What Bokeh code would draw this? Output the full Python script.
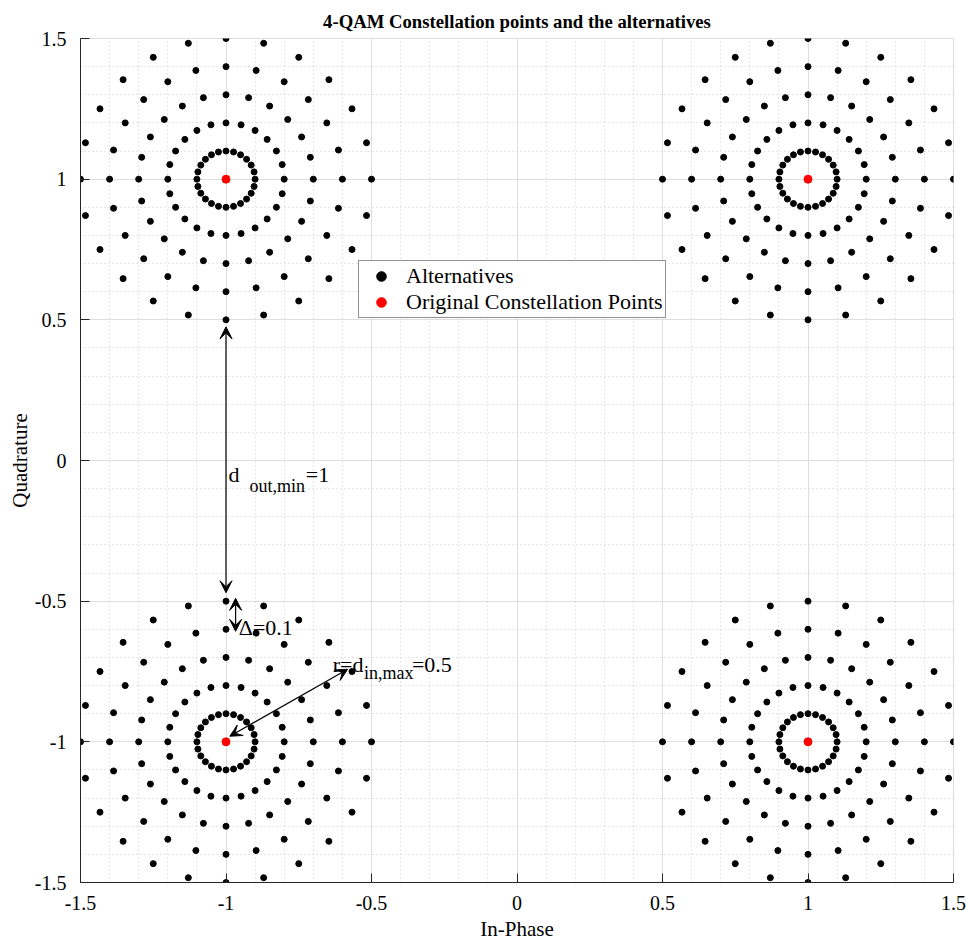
import numpy as np
from bokeh.plotting import figure
from bokeh.models import (ColumnDataSource, FixedTicker, Label, Arrow, VeeHead,
                          Legend, LegendItem)
from bokeh.embed import file_html
from bokeh.resources import INLINE

# ---- data ----
const_i = [1, -1, -1, 1]
const_q = [1, 1, -1, -1]
ring_radii = [0.1, 0.2, 0.3, 0.4, 0.5]
ring_angles_deg = [0, 15, 30, 45, 60, 75, 90, 105, 120, 135, 150, 165,
                   180, 195, 210, 225, 240, 255, 270, 285, 300, 315, 330, 345]
major_ticks = [-1.5, -1, -0.5, 0, 0.5, 1, 1.5]
tick_labels = {-1.5: "-1.5", -1: "-1", -0.5: "-0.5", 0: "0", 0.5: "0.5", 1: "1", 1.5: "1.5"}
title_text = "4-QAM Constellation points and the alternatives"

alt_i, alt_q = [], []
for ci, cq in zip(const_i, const_q):
    for r in ring_radii:
        for a in ring_angles_deg:
            t = np.deg2rad(a)
            alt_i.append(ci + r * np.cos(t))
            alt_q.append(cq + r * np.sin(t))

FONT = "Liberation Serif"
AX = "#262626"

p = figure(width=966, height=943, output_backend="svg", toolbar_location=None,
           x_range=(-1.5, 1.5), y_range=(-1.5, 1.5),
           min_border_left=80, min_border_right=13, min_border_top=38, min_border_bottom=60)
p.title.text = title_text
p.title.align = "center"
p.title.text_font = FONT
p.title.text_font_size = "18.7px"
p.title.text_font_style = "bold"
p.title.text_color = "#000000"
p.title.standoff = 14

minor = [round(v, 1) for v in np.arange(-1.5, 1.5001, 0.1)]
for ax in (p.xaxis[0], p.yaxis[0]):
    ax.ticker = FixedTicker(ticks=major_ticks, minor_ticks=minor)
    ax.major_label_overrides = {k: v for k, v in tick_labels.items()}
    ax.major_label_text_font = FONT
    ax.major_label_text_font_size = "20px"
    ax.major_label_text_color = "#000000"
    ax.axis_label_text_font = FONT
    ax.axis_label_text_font_size = "21px"
    ax.axis_label_text_font_style = "normal"
    ax.axis_label_text_color = "#000000"
    ax.axis_line_color = AX
    ax.major_tick_line_color = AX
    ax.major_tick_in = 9
    ax.major_tick_out = 0
    ax.minor_tick_line_color = None
p.xaxis.axis_label = "In-Phase"
p.yaxis.axis_label = "Quadrature"
p.xaxis.major_label_standoff = 9
p.yaxis.major_label_standoff = 10
p.xaxis.axis_label_standoff = 4
p.yaxis.axis_label_standoff = 0

p.grid.grid_line_color = "#dedede"
p.grid.minor_grid_line_color = "#cccccc"
p.grid.minor_grid_line_dash = "1 3"
p.outline_line_color = "#dcdcdc"

src_alt = ColumnDataSource(dict(x=alt_i, y=alt_q))
src_c = ColumnDataSource(dict(x=const_i, y=const_q))
r_alt = p.scatter("x", "y", source=src_alt, size=6, color="black")
r_c = p.scatter("x", "y", source=src_c, size=8, color="red")

legend = Legend(items=[LegendItem(label="Alternatives", renderers=[r_alt]),
                       LegendItem(label="Original Constellation Points", renderers=[r_c])],
                location=(278, 564))
legend.label_text_font = FONT
legend.label_text_font_size = "22px"
legend.label_text_color = "#000000"
legend.border_line_color = AX
legend.border_line_width = 1
legend.padding = 2
legend.spacing = 0
legend.label_height = 24
legend.glyph_height = 24
legend.glyph_width = 40
legend.label_standoff = 5
legend.margin = 0
legend.background_fill_alpha = 1
p.add_layout(legend, "center")

def dbl_arrow(x0, y0, x1, y1):
    p.add_layout(Arrow(x_start=x0, y_start=y0, x_end=x1, y_end=y1,
                       line_color="black", line_width=1.2,
                       start=VeeHead(size=12, fill_color="black", line_color="black"),
                       end=VeeHead(size=12, fill_color="black", line_color="black")))

dbl_arrow(-1.0, -0.47, -1.0, 0.475)
dbl_arrow(-0.967, -0.607, -0.967, -0.49)
dbl_arrow(-0.987, -0.98, -0.582, -0.742)

def lab(x, y, t, size="22px"):
    p.add_layout(Label(x=x, y=y, text=t, text_font=FONT, text_font_size=size,
                       text_color="black", text_baseline="alphabetic", text_align="left"))

lab(-0.991, -0.05, "d")
lab(-0.919, -0.089, "out,min", "18px")
lab(-0.726, -0.05, "=1")
lab(-0.956, -0.593, "Δ=0.1")
lab(-0.633, -0.724, "r=d")
lab(-0.526, -0.756, "in,max", "18px")
lab(-0.361, -0.724, "=0.5")

open("out.html", "w").write(file_html(p, INLINE))
